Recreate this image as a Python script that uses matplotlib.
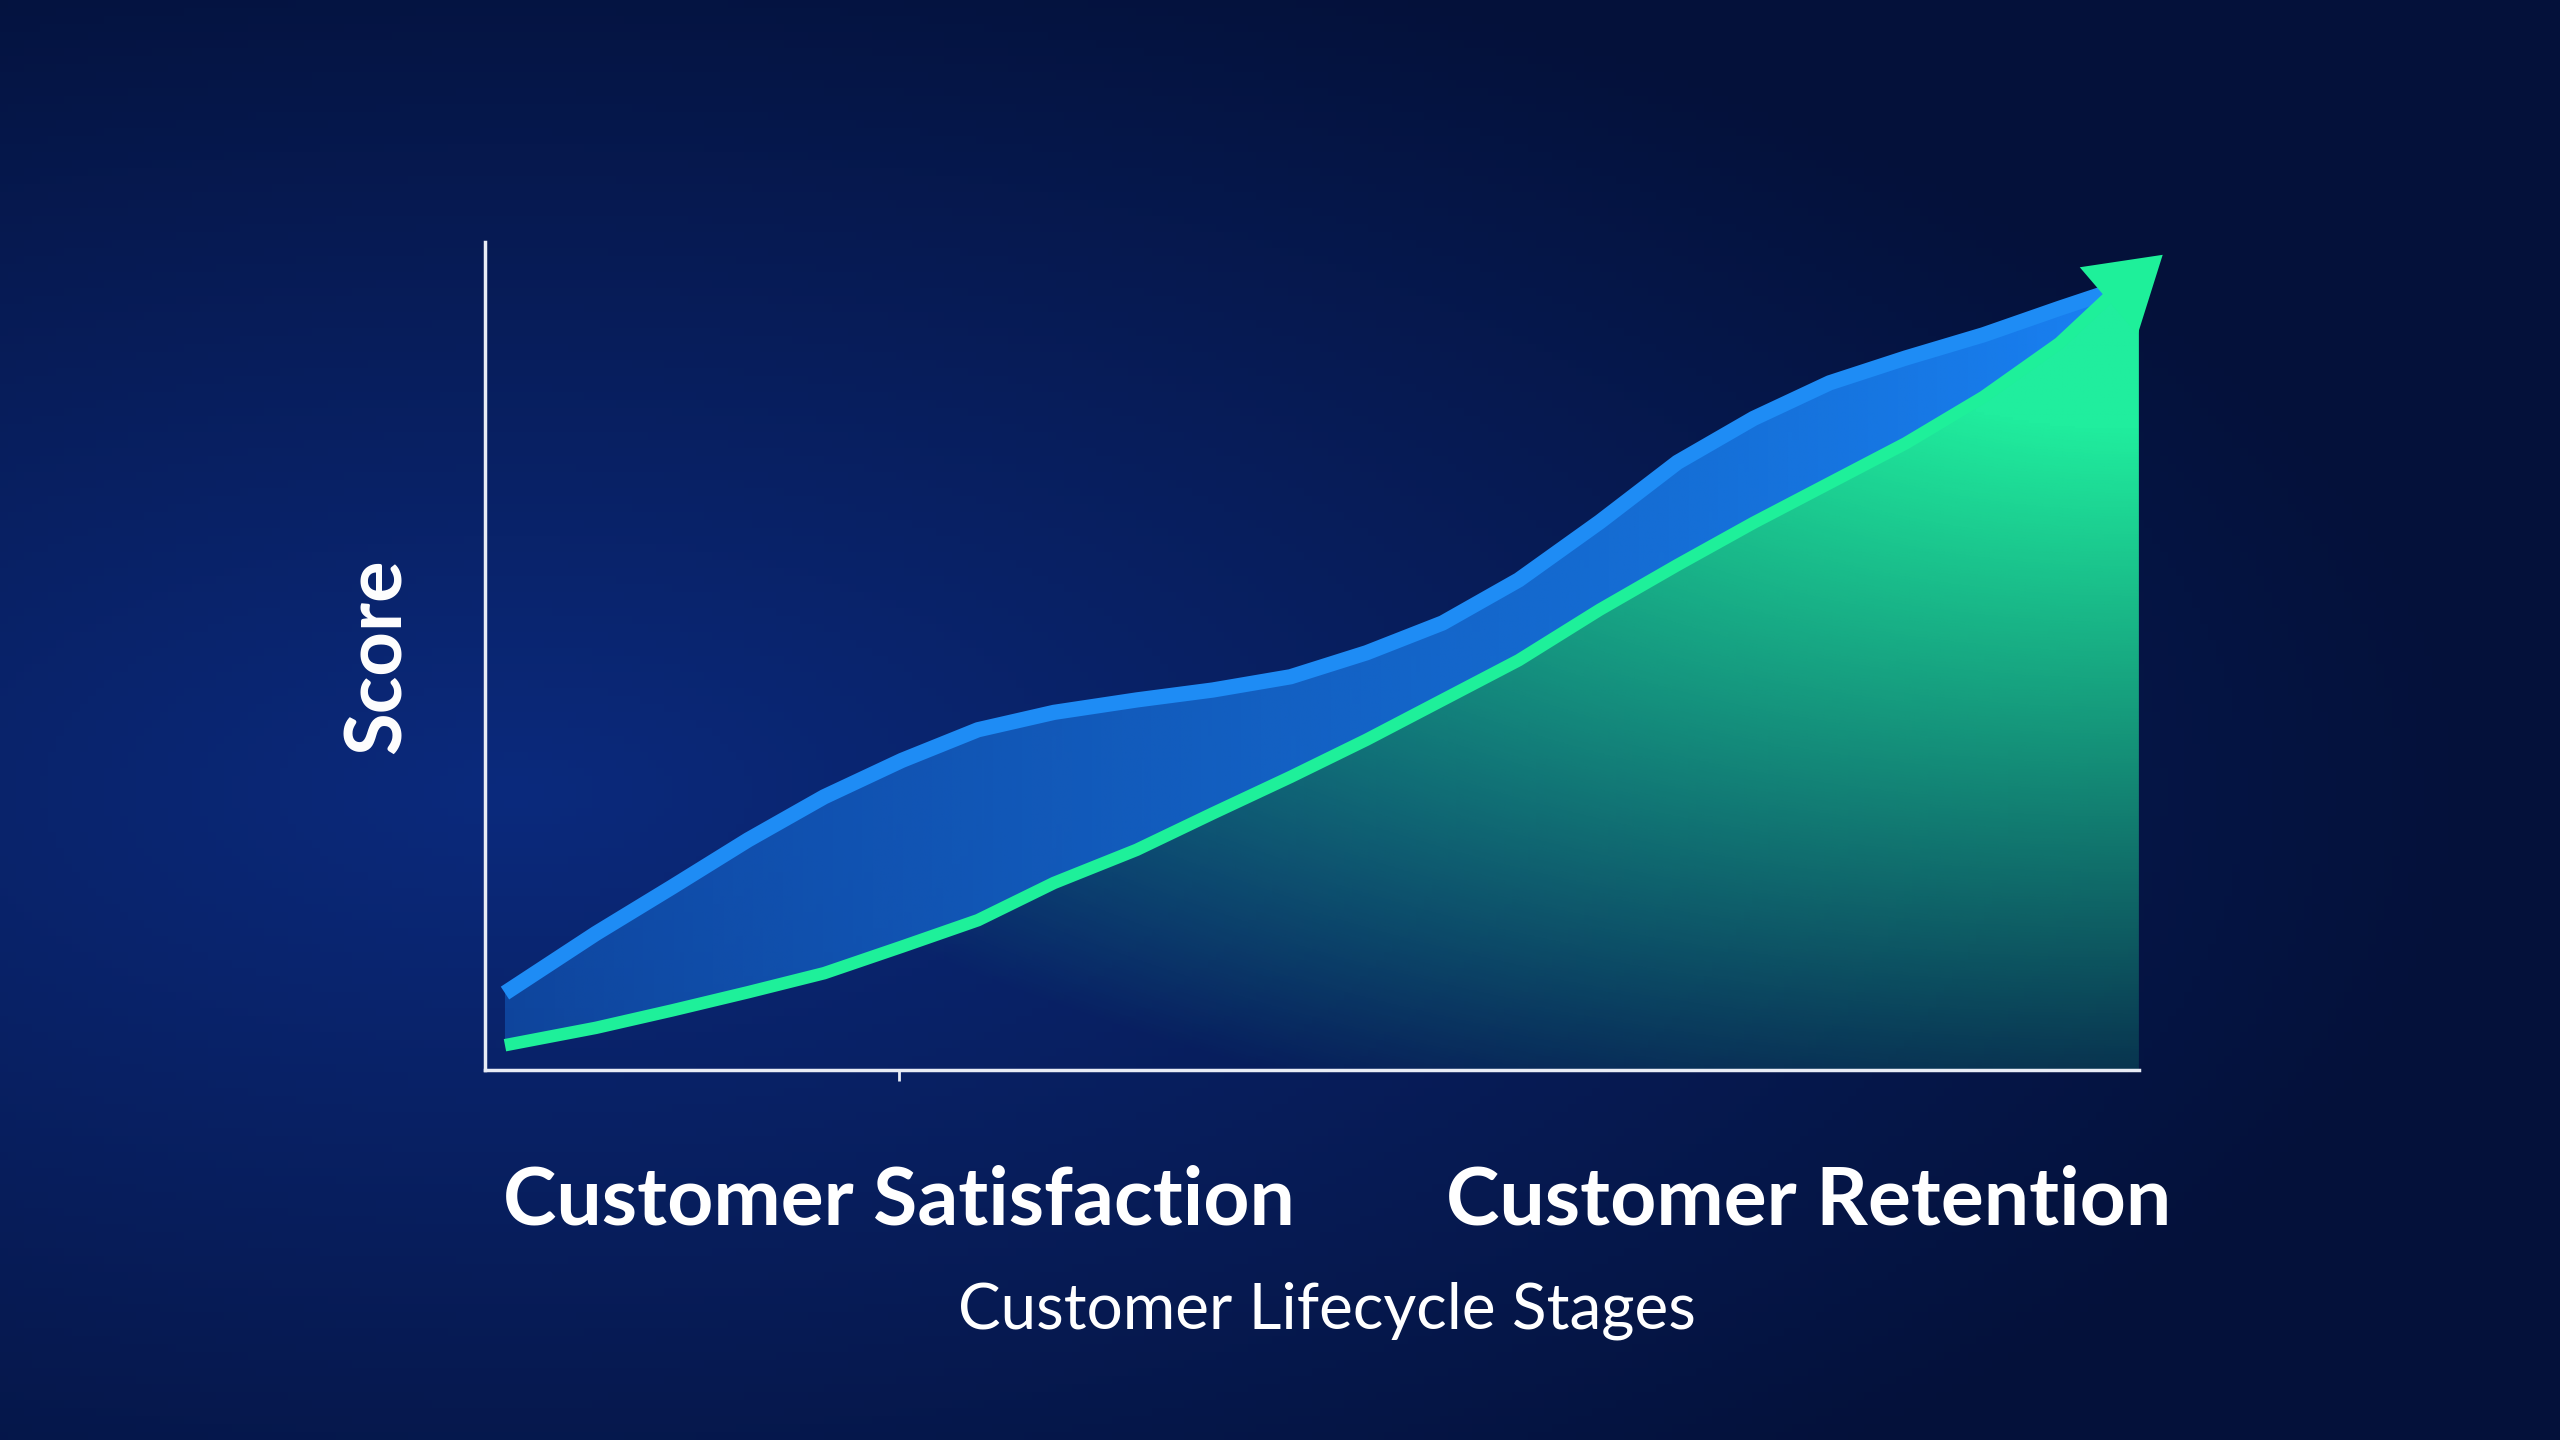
import matplotlib
matplotlib.use("Agg")
import matplotlib.pyplot as plt
import numpy as np

## Данные
stage_x = [0.12, 0.67, 1.13, 1.59, 2.05, 2.52, 2.98, 3.44, 3.94, 4.40, 4.87, 5.33,
           5.79, 6.25, 6.74, 7.21, 7.67, 8.13, 8.59, 9.06, 9.52, 9.82, 10.0]
satisfaction = [9.3, 16.5, 22.1, 27.8, 33.0, 37.4, 41.1, 43.2, 44.7, 45.9, 47.5, 50.4,
                54.0, 59.2, 66.2, 73.4, 78.7, 83.0, 86.0, 88.8, 92.0, 94.0, 95.2]
retention = [3.0, 5.1, 7.2, 9.4, 11.7, 14.9, 18.1, 22.6, 26.6, 31.0, 35.4, 39.9,
             44.7, 49.5, 55.6, 61.0, 66.1, 70.9, 75.7, 81.3, 87.8, 93.4, 96.0]

tick_pos = [2.5, 8.0]
tick_labels = ["Customer Satisfaction", "Customer Retention"]

BLUE = "#1e8cf5"
GREEN = "#1ef09a"

fig = plt.figure(figsize=(25.6, 14.4), dpi=100)

## Фон (радиальный градиент)
bg = fig.add_axes([0, 0, 1, 1], zorder=-10)
gx, gy = np.meshgrid(np.linspace(0, 1, 320), np.linspace(0, 1, 180))
r = np.sqrt(((gx - 0.2) / 1.1) ** 2 + ((gy - 0.55) / 0.9) ** 2)
t = np.clip(r / 0.7, 0, 1)
c_in = np.array([11, 42, 125]) / 255
c_out = np.array([4, 17, 58]) / 255
bg_img = c_in * (1 - t[..., None]) + c_out * t[..., None]
bg.imshow(bg_img, extent=[0, 1, 0, 1], aspect="auto", origin="upper")
bg.axis("off")

## Оси
ax = fig.add_axes([0.1895, 0.2569, 0.646, 0.575])
ax.patch.set_alpha(0)
ax.set_xlim(0, 10)
ax.set_ylim(0, 100)

x = np.array(stage_x)
y_s = np.array(satisfaction)
y_r = np.array(retention)


def gradient_fill(poly, rgb, alpha_fn, z):
    xx, yy = np.meshgrid(np.linspace(0, 10, 400), np.linspace(0, 100, 300))
    img = np.zeros((300, 400, 4))
    img[..., :3] = np.array(rgb) / 255
    img[..., 3] = np.clip(alpha_fn(xx, yy), 0, 1)
    im = ax.imshow(img, extent=[0, 10, 0, 100], origin="lower", aspect="auto", zorder=z)
    im.set_clip_path(poly.get_paths()[0], ax.transData)


## Заливка под зелёной линией
p_green = ax.fill_between(x, 0, y_r, facecolor="none", edgecolor="none")
gradient_fill(p_green, (32, 238, 158),
              lambda xx, yy: 1.25 - 1.1 * np.sqrt(((10 - xx) / 10) ** 2 + ((100 - yy) / 100) ** 2), 1)

## Заливка между линиями
p_blue = ax.fill_between(x, y_r, y_s, facecolor="none", edgecolor="none")
gradient_fill(p_blue, (25, 130, 245),
              lambda xx, yy: 0.35 + 0.65 * (xx / 10), 2)

## Линии
ax.plot(x, y_s, color=BLUE, lw=11, solid_capstyle="butt", solid_joinstyle="round", zorder=3)
ax.plot(x[:-1], y_r[:-1], color=GREEN, lw=9, solid_capstyle="butt", solid_joinstyle="round", zorder=4)

## Стрелка на конце зелёной линии
dx = x[-1] - x[-3]
dy = y_r[-1] - y_r[-3]
ax.annotate("", xy=(x[-1] + 0.3 * dx, y_r[-1] + 0.3 * dy), xytext=(x[-3], y_r[-3]),
            arrowprops=dict(arrowstyle="-|>,head_length=1.6,head_width=1.0",
                            color=GREEN, lw=0, mutation_scale=32, shrinkA=0, shrinkB=0),
            annotation_clip=False, zorder=5)

## Оформление
for s in ["top", "right"]:
    ax.spines[s].set_visible(False)
for s in ["left", "bottom"]:
    ax.spines[s].set_color("#e8ecf5")
    ax.spines[s].set_linewidth(2.5)

ax.set_yticks([])
ax.set_xticks(tick_pos)
ax.set_xticklabels(tick_labels, fontdict={"family": "Lato", "weight": "bold", "size": 58, "color": "white"})
ax.tick_params(axis="x", length=8, width=2, color="#e8ecf5", pad=60)
ax.xaxis.get_major_ticks()[1].tick1line.set_visible(False)

ax.set_xlabel("Customer Lifecycle Stages", fontdict={"family": "Lato", "size": 46, "color": "white"}, labelpad=31)
ax.xaxis.label.set_x(0.509)
ax.set_ylabel("Score", fontdict={"family": "Lato", "weight": "bold", "size": 56, "color": "white"}, labelpad=51)

plt.savefig("out.png", dpi=100)
